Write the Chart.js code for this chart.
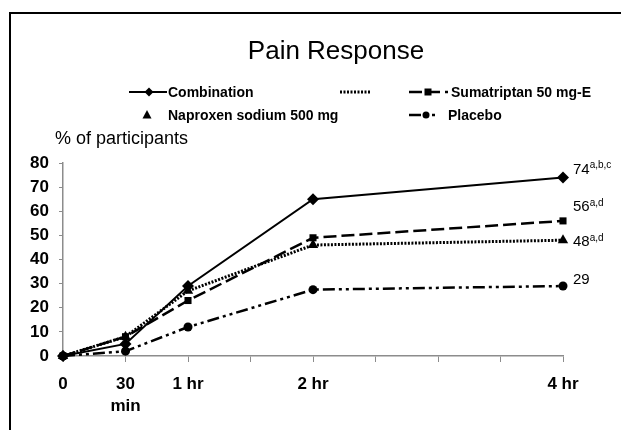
<!DOCTYPE html>
<html>
<head>
<meta charset="utf-8">
<script src="https://cdn.jsdelivr.net/npm/chart.js@4"></script>
<style>
  body { margin: 0; background: #fff; }
  #painChart { display: block; }
</style>
</head>
<body>
<canvas id="painChart" width="621" height="430"></canvas>
<script>
// 数据
const timeMin = [0, 30, 60, 120, 240];
const seriesNames = ['Combination', 'Sumatriptan 50 mg-E', 'Naproxen sodium 500 mg', 'Placebo'];
const combination = [0, 5, 29, 65, 74];
const sumatriptan = [0, 8, 23, 49, 56];
const naproxen = [0, 8, 27, 46, 48];
const placebo = [0, 2, 12, 27.5, 29];
const xTickValues = [0, 30, 60, 120, 240];
const xTickText = ['0', ['30', 'min'], '1 hr', '2 hr', '4 hr'];
const endValues = ['74', '56', '48', '29'];
const endSups = ['a,b,c', 'a,d', 'a,d', ''];

const FONT = '"Liberation Sans", Arial, Helvetica, sans-serif';
const AXIS_GRAY = '#8c8c8c';

// 线型
const styles = [
    { dash: [], width: 2, marker: 'diamond', r: 5.5 },
    { dash: [13, 5], width: 2.5, marker: 'square', r: 3.5 },
    { dash: [2, 1.5], width: 3, marker: 'triangle', r: 5.5 },
    { dash: [12, 4, 3, 4, 3, 4], width: 2.5, marker: 'circle', r: 4 }
];
const chartStyle = { rectRot: 6, rect: 5, triangle: 6, circle: 4.5 };

function toPoints(values) {
    return values.map((v, i) => ({ x: timeMin[i], y: v }));
}

function drawMarker(ctx, type, x, y, r) {
    ctx.save();
    ctx.fillStyle = '#000';
    ctx.setLineDash([]);
    ctx.beginPath();
    if (type === 'diamond') {
        ctx.moveTo(x, y - r); ctx.lineTo(x + r, y); ctx.lineTo(x, y + r); ctx.lineTo(x - r, y);
    } else if (type === 'square') {
        ctx.rect(x - r, y - r, 2 * r, 2 * r);
    } else if (type === 'triangle') {
        ctx.moveTo(x, y - r); ctx.lineTo(x + r * 0.9, y + r * 0.7); ctx.lineTo(x - r * 0.9, y + r * 0.7);
    } else {
        ctx.arc(x, y, r, 0, Math.PI * 2);
    }
    ctx.closePath();
    ctx.fill();
    ctx.restore();
}

function drawSample(ctx, x1, x2, y, st) {
    ctx.save();
    ctx.strokeStyle = '#000';
    ctx.lineWidth = st.width;
    ctx.setLineDash(st.dash);
    ctx.beginPath();
    ctx.moveTo(x1, y);
    ctx.lineTo(x2, y);
    ctx.stroke();
    ctx.restore();
}

// 标题、图例、外框和末端标注
const decorPlugin = {
    id: 'decor',
    afterDraw(chart) {
        const ctx = chart.ctx;
        ctx.save();
        // 外框
        ctx.strokeStyle = '#000';
        ctx.lineWidth = 2;
        ctx.strokeRect(10, 13, 700, 500);

        // 标题
        ctx.fillStyle = '#000';
        ctx.font = '26px ' + FONT;
        ctx.textAlign = 'center';
        ctx.textBaseline = 'alphabetic';
        ctx.fillText('Pain Response', 336, 59);

        // 图例
        ctx.font = 'bold 14px ' + FONT;
        ctx.textAlign = 'left';
        ctx.textBaseline = 'middle';
        drawSample(ctx, 129, 167, 92, styles[0]);
        drawMarker(ctx, 'diamond', 149, 92, 4.5);
        ctx.fillText(seriesNames[0], 168, 93);

        drawSample(ctx, 340, 370, 92, styles[2]);

        drawSample(ctx, 409, 448, 92, styles[1]);
        drawMarker(ctx, 'square', 428, 92, 3.5);
        ctx.fillText(seriesNames[1], 451, 93);

        drawMarker(ctx, 'triangle', 147, 115, 5);
        ctx.fillText(seriesNames[2], 168, 116);

        drawSample(ctx, 409, 438, 115, styles[3]);
        drawMarker(ctx, 'circle', 426, 115, 3.5);
        ctx.fillText(seriesNames[3], 448, 116);

        // 纵轴标题
        ctx.font = '18px ' + FONT;
        ctx.textBaseline = 'alphabetic';
        ctx.fillText('% of participants', 55, 144);

        // 末端数值标注
        const xs = chart.scales.x;
        const ys = chart.scales.y;
        const lastVals = [combination, sumatriptan, naproxen, placebo].map(a => a[a.length - 1]);
        const yOffsets = [-8, -14, 2, -6];
        const lx = xs.getPixelForValue(timeMin[timeMin.length - 1]) + 10;
        ctx.textBaseline = 'middle';
        lastVals.forEach((v, i) => {
            const py = ys.getPixelForValue(v) + yOffsets[i];
            ctx.font = '15px ' + FONT;
            ctx.fillText(endValues[i], lx, py);
            const w = ctx.measureText(endValues[i]).width;
            if (endSups[i]) {
                ctx.font = '10px ' + FONT;
                ctx.fillText(endSups[i], lx + w, py - 4);
            }
        });
        ctx.restore();
    }
};

const ctx = document.getElementById('painChart');
new Chart(ctx.getContext('2d'), {
    type: 'line',
    data: {
        datasets: [
            {
                label: seriesNames[0],
                data: toPoints(combination),
                borderColor: '#000', backgroundColor: '#000',
                borderWidth: styles[0].width, borderDash: styles[0].dash,
                pointStyle: 'rectRot', pointRadius: chartStyle.rectRot, pointBorderWidth: 0,
                clip: false
            },
            {
                label: seriesNames[1],
                data: toPoints(sumatriptan),
                borderColor: '#000', backgroundColor: '#000',
                borderWidth: styles[1].width, borderDash: styles[1].dash,
                pointStyle: 'rect', pointRadius: chartStyle.rect, pointBorderWidth: 0,
                clip: false
            },
            {
                label: seriesNames[2],
                data: toPoints(naproxen),
                borderColor: '#000', backgroundColor: '#000',
                borderWidth: styles[2].width, borderDash: styles[2].dash,
                pointStyle: 'triangle', pointRadius: chartStyle.triangle, pointBorderWidth: 0,
                clip: false
            },
            {
                label: seriesNames[3],
                data: toPoints(placebo),
                borderColor: '#000', backgroundColor: '#000',
                borderWidth: styles[3].width, borderDash: styles[3].dash,
                pointStyle: 'circle', pointRadius: chartStyle.circle, pointBorderWidth: 0,
                clip: false
            }
        ]
    },
    options: {
        responsive: false,
        animation: false,
        layout: { padding: { top: 163, right: 58, left: 0, bottom: 0 } },
        plugins: {
            legend: { display: false },
            title: { display: false },
            tooltip: { enabled: false }
        },
        scales: {
            x: {
                type: 'linear',
                min: 0,
                max: 240,
                afterFit: s => { s.height = 74; },
                afterBuildTicks: s => {
                    const t = [];
                    for (let v = 0; v <= 240; v += 30) t.push({ value: v });
                    s.ticks = t;
                },
                ticks: {
                    autoSkip: false,
                    maxRotation: 0,
                    color: '#000',
                    padding: 11,
                    font: { family: FONT, size: 17, weight: 'bold', lineHeight: 1.3 },
                    callback: v => {
                        const i = xTickValues.indexOf(v);
                        return i >= 0 ? xTickText[i] : '';
                    }
                },
                grid: { drawOnChartArea: false, color: AXIS_GRAY, tickLength: 6 },
                border: { color: AXIS_GRAY, width: 1.5 }
            },
            y: {
                min: 0,
                max: 80,
                afterFit: s => { s.width = 63; },
                ticks: {
                    stepSize: 10,
                    color: '#000',
                    padding: 10,
                    font: { family: FONT, size: 17, weight: 'bold' }
                },
                grid: { drawOnChartArea: false, color: AXIS_GRAY, tickLength: 4 },
                border: { color: AXIS_GRAY, width: 1.5 }
            }
        }
    },
    plugins: [decorPlugin]
});
</script>
</body>
</html>
